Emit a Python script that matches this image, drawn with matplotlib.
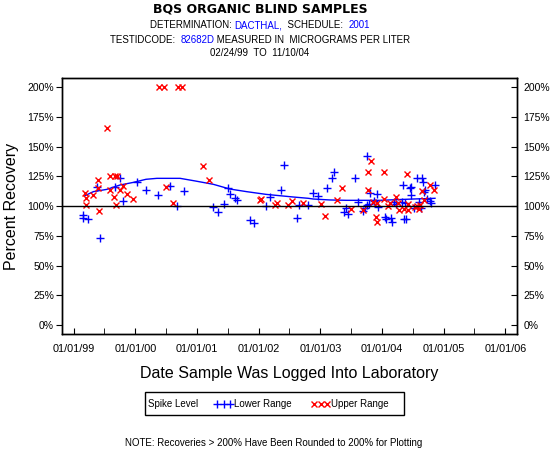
import matplotlib
matplotlib.use('Agg')
import matplotlib.pyplot as plt
import matplotlib.dates as mdates
from matplotlib.lines import Line2D
from matplotlib.patches import Rectangle
import numpy as np

plt.rcParams['font.family'] = ['Liberation Sans', 'DejaVu Sans']

# lower range spike (blue +)
lower_dates = ['1999-02-24', '1999-02-24', '1999-03-28', '1999-05-21', '1999-06-05', '1999-09-02',
               '1999-10-02', '1999-10-17', '2000-01-12', '2000-03-04', '2000-05-12', '2000-07-24',
               '2000-09-05', '2000-10-15', '2001-04-07', '2001-05-06', '2001-06-09', '2001-07-04',
               '2001-07-14', '2001-08-13', '2001-08-27', '2001-11-10', '2001-12-04', '2002-02-12',
               '2002-03-08', '2002-05-10', '2002-05-30', '2002-08-17', '2002-08-29', '2002-10-21',
               '2002-11-20', '2002-12-20', '2003-02-07', '2003-03-08', '2003-03-22', '2003-05-20',
               '2003-06-01', '2003-06-15', '2003-07-24', '2003-08-09', '2003-09-08', '2003-09-22',
               '2003-10-02', '2003-10-06', '2003-10-18', '2003-10-21', '2003-11-13', '2003-12-05',
               '2003-12-09', '2004-01-17', '2004-01-23', '2004-02-26', '2004-03-02', '2004-03-11',
               '2004-03-23', '2004-05-01', '2004-05-05', '2004-05-09', '2004-05-21', '2004-05-15',
               '2004-06-17', '2004-06-23', '2004-06-23', '2004-07-09', '2004-07-27', '2004-08-07',
               '2004-08-24', '2004-08-30', '2004-09-05', '2004-09-09', '2004-09-25', '2004-10-10',
               '2004-10-16', '2004-11-10', '2004-08-17']
lower_pct = [92.6, 89.8, 89.2, 115.8, 72.9, 115.8,
             123.9, 104.5, 120.0, 113.9, 109.7, 117.0,
             100.4, 112.7, 99.6, 94.8, 101.8, 115.0,
             110.2, 106.6, 105.2, 88.4, 86.1, 100.4,
             108.0, 113.9, 134.6, 89.8, 101.0, 101.0,
             110.8, 108.8, 115.5, 124.0, 128.5, 95.4,
             98.7, 93.1, 124.0, 103.8, 95.9, 98.2,
             101.0, 142.5, 101.5, 110.8, 104.3, 110.0,
             99.6, 91.2, 89.2, 89.8, 86.4, 103.8,
             101.5, 103.8, 117.8, 89.2, 89.2, 102.4,
             115.5, 109.4, 116.4, 98.7, 123.4, 103.2,
             124.0, 120.0, 111.6, 113.6, 106.0, 104.3,
             102.4, 117.8, 98.2]

# upper range spike (red x)
upper_dates = ['1999-03-08', '1999-03-14', '1999-03-14', '1999-04-27', '1999-05-23', '1999-05-27',
               '1999-05-31', '1999-07-15', '1999-08-03', '1999-09-02', '1999-09-12', '1999-08-03',
               '1999-08-27', '1999-09-08', '1999-10-02', '1999-10-17', '1999-11-10', '1999-12-16',
               '2000-05-22', '2000-06-20', '2000-09-11', '2000-10-01', '2000-06-30', '2000-08-09',
               '2001-02-02', '2001-03-10', '2002-01-08', '2002-01-16', '2002-04-07', '2002-04-17',
               '2002-06-25', '2002-07-15', '2002-09-18', '2003-01-06', '2003-01-28', '2003-04-11',
               '2003-05-07', '2003-06-29', '2003-09-12', '2003-10-11', '2003-10-11', '2003-10-25',
               '2003-11-06', '2003-11-26', '2003-11-30', '2003-12-02', '2004-01-11', '2004-01-11',
               '2004-02-06', '2004-02-16', '2004-03-26', '2004-04-05', '2004-04-11', '2004-05-09',
               '2004-05-30', '2004-06-03', '2004-06-03', '2004-07-13', '2004-07-27', '2004-08-07',
               '2004-08-11', '2004-08-27', '2004-09-04', '2004-10-10', '2004-11-03']
upper_pct = [110.8, 107.1, 101.0, 109.4, 122.0, 115.5,
             96.2, 166.0, 125.6, 125.6, 125.4, 113.6,
             108.0, 101.0, 113.6, 117.0, 110.0, 106.0,
             200, 200, 200, 200, 116.4, 102.9,
             134.1, 122.3, 105.2, 106.0, 101.0, 102.9,
             101.0, 104.6, 102.9, 101.5, 92.0, 105.2,
             115.5, 97.6, 96.8, 129.0, 113.6, 138.0,
             103.8, 91.2, 86.9, 102.9, 128.5, 106.0,
             100.4, 102.4, 108.0, 102.9, 96.8, 97.6,
             127.1, 96.8, 101.5, 99.6, 100.4, 97.6,
             101.0, 112.7, 105.2, 117.8, 113.6]

# smoothed trend line
fit_dates = ['1999-03-08', '1999-04-27', '1999-07-15', '1999-10-02', '1999-12-20', '2000-03-04',
             '2000-05-07', '2000-09-22', '2000-12-20', '2001-04-06', '2001-07-14', '2001-10-21',
             '2002-02-14', '2002-07-24', '2002-10-21', '2002-11-20', '2003-02-27', '2003-06-06',
             '2003-12-18', '2004-07-03', '2004-11-10']
fit_pct = [108.8, 112.2, 114.1, 117.8, 120.0, 122.6,
           123.4, 123.4, 121.2, 118.4, 114.4, 112.2,
           109.9, 107.7, 106.6, 106.0, 105.2, 104.9,
           104.9, 106.0, 106.6]

yticks = [0, 25, 50, 75, 100, 125, 150, 175, 200]

fig = plt.figure(figsize=(5.5, 4.5), dpi=100)
ax = fig.add_axes([0.1133, 0.2578, 0.8261, 0.5682])

ax.plot(np.array(fit_dates, dtype='datetime64[D]'), fit_pct, color='blue', lw=1)
ax.plot(np.array(lower_dates, dtype='datetime64[D]'), lower_pct, ls='none', marker='+',
        color='blue', ms=6, mew=1)
ax.plot(np.array(upper_dates, dtype='datetime64[D]'), upper_pct, ls='none', marker='x',
        color='red', ms=5, mew=1)
ax.axhline(100, color='black', lw=1)

ax.set_xlim(np.datetime64('1998-10-25'), np.datetime64('2006-03-09'))
ax.set_ylim(-7.6, 207.6)
ax.xaxis.set_major_locator(mdates.YearLocator())
ax.xaxis.set_minor_locator(mdates.MonthLocator(bymonth=7))
ax.xaxis.set_major_formatter(mdates.DateFormatter('%m/%d/%y'))
ax.tick_params(axis='x', which='both', direction='in', length=4, labelsize=7.8, pad=7)
ax.set_yticks(yticks)
ax.set_yticklabels(['%d%%' % v for v in yticks])
ax.tick_params(axis='y', direction='out', length=4, labelsize=7.5, pad=2)

ax2 = ax.twinx()
ax2.set_ylim(ax.get_ylim())
ax2.set_yticks(yticks)
ax2.set_yticklabels(['%d%%' % v for v in yticks])
ax2.tick_params(axis='y', direction='in', length=4, labelsize=7.5, pad=5)

for a in (ax, ax2):
    for s in a.spines.values():
        s.set_linewidth(1)

ax.set_ylabel('Percent Recovery', fontsize=11.5, labelpad=6)
ax.set_xlabel('Date Sample Was Logged Into Laboratory', fontsize=11.5, labelpad=9)

W, H = 550.0, 450.0
CX = 260.0  # header centre (px)

# header
fig.text(CX / W, 1 - 9.5 / H, 'BQS ORGANIC BLIND SAMPLES', ha='center', va='center',
         fontsize=9, fontweight='bold', family='DejaVu Sans')

renderer = fig.canvas.get_renderer()


def header_line(y_px, parts, size=7):
    texts = [fig.text(0, 1 - y_px / H, s, color=c, fontsize=size, ha='left', va='center')
             for s, c in parts]
    widths = [t.get_window_extent(renderer).width for t in texts]
    x = CX - sum(widths) / 2
    for t, w in zip(texts, widths):
        t.set_x(x / W)
        x += w


header_line(25.5, [('DETERMINATION: ', 'black'), ('DACTHAL,', 'blue'),
                   ('  SCHEDULE:  ', 'black'), ('2001', 'blue')])
header_line(40, [('TESTIDCODE:  ', 'black'), ('82682D', 'blue'),
                 (' MEASURED IN  MICROGRAMS PER LITER', 'black')])
header_line(53.5, [('02/24/99  TO  11/10/04', 'black')])

# legend box
fig.add_artist(Rectangle((145 / W, 1 - 415 / H), (404 - 145) / W, (415 - 392) / H,
                         transform=fig.transFigure, fill=False, lw=1, color='black'))
ly = 1 - 404 / H
fig.text(148 / W, ly, 'Spike Level', fontsize=7, va='center')
fig.add_artist(Line2D([217 / W, 223.5 / W, 230 / W], [ly, ly, ly], transform=fig.transFigure,
                      ls='none', marker='+', color='blue', ms=6, mew=1))
fig.text(234 / W, ly, 'Lower Range', fontsize=7, va='center')
fig.add_artist(Line2D([314 / W, 320.5 / W, 327 / W], [ly, ly, ly], transform=fig.transFigure,
                      ls='none', marker='x', color='red', ms=5, mew=1))
fig.text(331 / W, ly, 'Upper Range', fontsize=7, va='center')

fig.text(274 / W, 1 - 443 / H, 'NOTE: Recoveries > 200% Have Been Rounded to 200% for Plotting',
         ha='center', va='center', fontsize=7)

fig.savefig('out.png', dpi=100)
